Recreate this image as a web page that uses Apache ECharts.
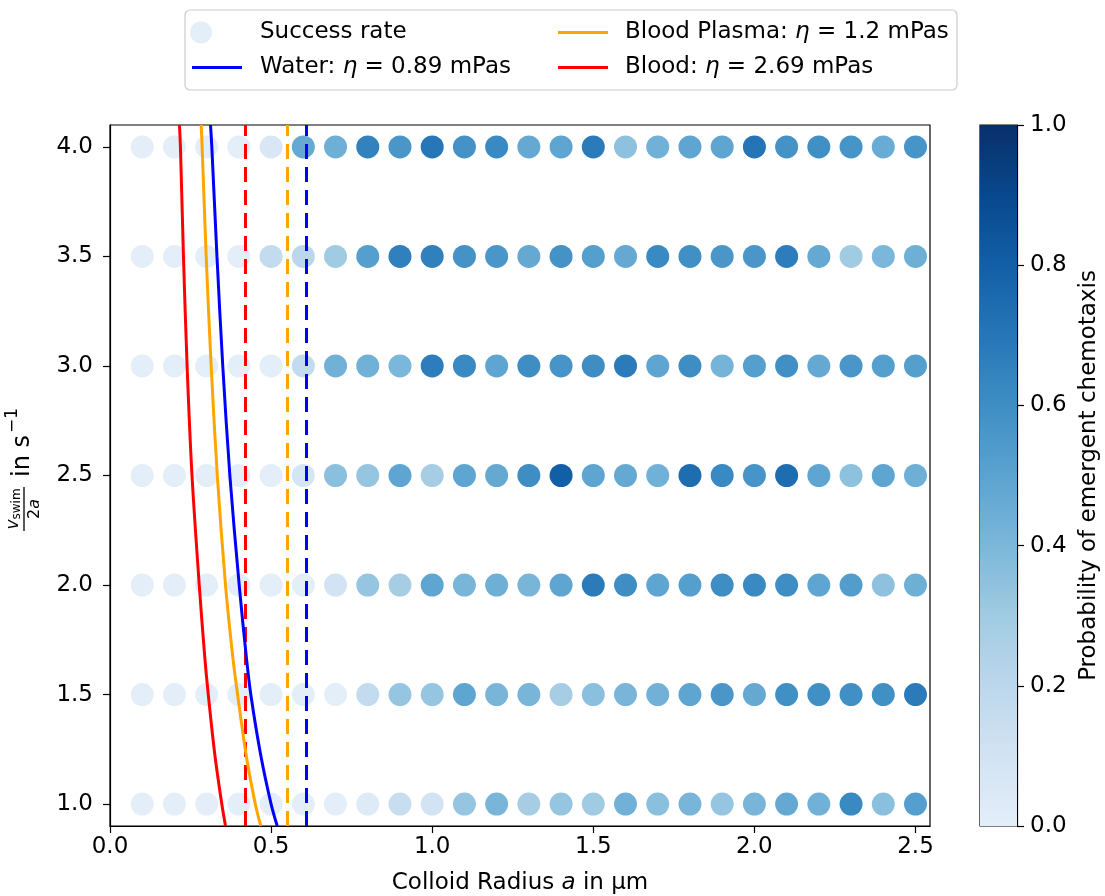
<!DOCTYPE html>
<html>
<head>
<meta charset="utf-8">
<script src="https://cdn.jsdelivr.net/npm/echarts@6/dist/echarts.min.js"></script>
<style>html,body{margin:0;padding:0;background:#fff}#c{width:1105px;height:896px}</style>
</head>
<body>
<div id="c"></div>
<script>
// ---------- data ----------
const radii = [0.1,0.2,0.3,0.4,0.5,0.6,0.7,0.8,0.9,1.0,1.1,1.2,1.3,1.4,1.5,1.6,1.7,1.8,1.9,2.0,2.1,2.2,2.3,2.4,2.5];
const rates = [1.0,1.5,2.0,2.5,3.0,3.5,4.0];
const prob_1_0 = [0,0,0,0,0,0,0,0.03,0.15,0.10,0.33,0.41,0.28,0.33,0.30,0.43,0.36,0.41,0.33,0.41,0.47,0.43,0.62,0.36,0.52];
const prob_1_5 = [0,0,0,0,0,0,0,0.17,0.33,0.33,0.49,0.41,0.41,0.28,0.36,0.41,0.43,0.49,0.56,0.47,0.59,0.59,0.59,0.59,0.68];
const prob_2_0 = [0,0,0,0,0,0,0.10,0.33,0.28,0.49,0.41,0.44,0.41,0.49,0.68,0.60,0.49,0.52,0.60,0.62,0.60,0.49,0.53,0.35,0.44];
const prob_2_5 = [0,0,0,0,0,0.08,0.36,0.33,0.49,0.28,0.49,0.47,0.60,0.80,0.49,0.47,0.43,0.74,0.62,0.57,0.74,0.49,0.35,0.49,0.44];
const prob_3_0 = [0,0,0,0,0,0.17,0.43,0.43,0.40,0.67,0.62,0.49,0.60,0.57,0.60,0.68,0.49,0.60,0.42,0.52,0.59,0.47,0.56,0.52,0.52];
const prob_3_5 = [0,0,0,0,0.17,0.20,0.30,0.52,0.66,0.66,0.58,0.56,0.47,0.58,0.52,0.47,0.62,0.59,0.56,0.56,0.67,0.47,0.30,0.40,0.44];
const prob_4_0 = [0,0,0,0,0.06,0.47,0.44,0.65,0.56,0.70,0.58,0.62,0.47,0.49,0.68,0.35,0.43,0.49,0.49,0.71,0.58,0.59,0.57,0.46,0.57];
const probRows = [prob_1_0, prob_1_5, prob_2_0, prob_2_5, prob_3_0, prob_3_5, prob_4_0];

// threshold curves [radius, rate]
const waterCurve  = [[0.312,4.1],[0.316,4.0],[0.332,3.5],[0.350,3.0],[0.372,2.5],[0.401,2.0],[0.423,1.673],[0.437,1.5],[0.467,1.23],[0.500,1.0],[0.519,0.9]];
const plasmaCurve = [[0.283,4.1],[0.286,4.0],[0.2985,3.5],[0.314,3.0],[0.333,2.5],[0.3585,2.0],[0.381,1.673],[0.396,1.5],[0.422,1.23],[0.451,1.0],[0.468,0.9]];
const bloodCurve  = [[0.2155,4.1],[0.2186,4.0],[0.228,3.5],[0.2393,3.0],[0.2545,2.5],[0.277,2.0],[0.294,1.673],[0.305,1.5],[0.325,1.23],[0.347,1.0],[0.3585,0.9]];
const waterLimit = 0.6104;
const plasmaLimit = 0.5523;
const bloodLimit = 0.4213;

const xTicks = [0.0,0.5,1.0,1.5,2.0,2.5];
const yTicks = [1.0,1.5,2.0,2.5,3.0,3.5,4.0];
const cbTicks = [0.0,0.2,0.4,0.6,0.8,1.0];

// ---------- colours ----------
const BLUES = ['#f7fbff','#deebf7','#c6dbef','#9ecae1','#6baed6','#4292c6','#2171b5','#08519c','#08306b'];
function hex2rgb(h){return [parseInt(h.substr(1,2),16),parseInt(h.substr(3,2),16),parseInt(h.substr(5,2),16)];}
function blues(t){
  const p = Math.max(0,Math.min(1,t))*8; const i = Math.min(7,Math.floor(p)); const f = p-i;
  const a = hex2rgb(BLUES[i]), b = hex2rgb(BLUES[i+1]);
  return 'rgb(' + a.map((v,k)=>Math.round(v+(b[k]-v)*f)).join(',') + ')';
}
const cmap = [];
for (let k=0;k<=10;k++) cmap.push(blues(0.1+0.9*k/10));

const scatterData = [];
rates.forEach((r,ri)=>radii.forEach((a,ai)=>scatterData.push([a,r,probRows[ri][ai]])));

const FONT = 'DejaVu Sans';
const FS = 23;
const richLegend = {
  n:{fontFamily:FONT,fontSize:FS,color:'#000'},
  i:{fontFamily:FONT,fontSize:FS,fontStyle:'italic',color:'#000'}
};
const legendText = {
  'Success rate':'{n|Success rate}',
  'Water':'{n|Water: }{i|η}{n| = 0.89 mPas}',
  'Blood Plasma':'{n|Blood Plasma: }{i|η}{n| = 1.2 mPas}',
  'Blood':'{n|Blood: }{i|η}{n| = 2.69 mPas}'
};
const LINE_ICON = 'path://M0,0H50V3H0Z';
function mkLegend(name,left,top,padLeft,icon,color){
  const d = {name:name, icon: icon};
  if (color) d.itemStyle = {color:color};
  return {show:true,data:[d],left:left,top:top,padding:0,itemWidth:50,itemHeight:22,
    selectedMode:false,formatter:n=>legendText[n],
    textStyle:{fontFamily:FONT,fontSize:FS,color:'#000',padding:[0,0,0,padLeft],rich:richLegend}};
}

function lineSeries(name,data,limit,color){
  return {type:'line',name:name,data:data,xAxisIndex:0,yAxisIndex:0,symbol:'none',showSymbol:false,
    smooth:0.3,clip:true,z:5,lineStyle:{color:color,width:3},itemStyle:{color:color},
    markLine:{silent:true,symbol:'none',label:{show:false},
      lineStyle:{color:color,width:3,type:[15,8]},data:[{xAxis:limit}]}};
}

const chart = echarts.init(document.getElementById('c'),null,{renderer:'canvas'});
chart.setOption({
  animation:false,
  backgroundColor:'#fff',
  grid:[
    {left:110,top:125,width:820,height:701,outerBoundsMode:'none',containLabel:false,show:true,borderColor:'#000',borderWidth:1.2,backgroundColor:'transparent'},
    {left:980,top:125,width:37,height:701,outerBoundsMode:'none',containLabel:false,show:true,borderColor:'#000',borderWidth:1.2,backgroundColor:'transparent'}
  ],
  xAxis:[
    {type:'value',gridIndex:0,min:0,max:2.545,
     name:'{n|Colloid Radius }{i|a}{n| in μm}',nameLocation:'middle',nameGap:46,
     nameTextStyle:{rich:{n:{fontFamily:FONT,fontSize:FS,color:'#000'},i:{fontFamily:FONT,fontSize:FS,fontStyle:'italic',color:'#000'}}},
     axisLine:{show:true,lineStyle:{color:'#000',width:1.2}},
     axisTick:{show:true,length:7,lineStyle:{color:'#000',width:1.2},customValues:xTicks},
     axisLabel:{show:true,margin:10,fontFamily:FONT,fontSize:FS,color:'#000',customValues:xTicks,formatter:v=>v.toFixed(1)},
     splitLine:{show:false}},
    {type:'category',gridIndex:1,data:['cb'],show:false,boundaryGap:true}
  ],
  yAxis:[
    {type:'value',gridIndex:0,min:0.9,max:4.1,
     axisLine:{show:true,lineStyle:{color:'#000',width:1.2}},
     axisTick:{show:true,length:7,lineStyle:{color:'#000',width:1.2},customValues:yTicks},
     axisLabel:{show:true,margin:17,fontFamily:FONT,fontSize:FS,color:'#000',customValues:yTicks,formatter:v=>v.toFixed(1)},
     splitLine:{show:false}},
    {type:'value',gridIndex:1,min:0,max:1,position:'right',
     name:'Probability of emergent chemotaxis',nameLocation:'middle',nameRotate:90,nameGap:61,
     nameTextStyle:{fontFamily:FONT,fontSize:FS,color:'#000'},
     axisLine:{show:true,lineStyle:{color:'#000',width:1.2}},
     axisTick:{show:true,length:7,lineStyle:{color:'#000',width:1.2},customValues:cbTicks},
     axisLabel:{show:true,margin:13,fontFamily:FONT,fontSize:FS,color:'#000',customValues:cbTicks,formatter:v=>v.toFixed(1)},
     splitLine:{show:false}}
  ],
  visualMap:{type:'continuous',show:false,min:0,max:1,dimension:2,seriesIndex:0,inRange:{color:cmap}},
  legend:[
    mkLegend('Success rate',190,21,29,'circle',cmap[0]),
    mkLegend('Water',192,56,13,LINE_ICON,'#0000ff'),
    mkLegend('Blood Plasma',558,21,12,LINE_ICON,'#ffa500'),
    mkLegend('Blood',558,56,12,LINE_ICON,'#ff0000')
  ],
  graphic:[
    {type:'rect',z:-1,shape:{x:185,y:10,width:772,height:80,r:5},style:{fill:'rgba(255,255,255,0.8)',stroke:'#cccccc',lineWidth:1.2}},
    {type:'group',x:23,y:465,rotation:Math.PI/2,children:[
      {type:'text',x:-12,y:0,style:{text:'in s',fontFamily:FONT,fontSize:24,fill:'#000',align:'left',verticalAlign:'middle'}},
      {type:'text',x:32,y:-10,style:{text:'−1',fontFamily:FONT,fontSize:17,fill:'#000',align:'left',verticalAlign:'middle'}},
      {type:'text',x:-44,y:-9,style:{text:'{v|v}{s|swim}',align:'center',verticalAlign:'middle',
        rich:{v:{fontFamily:FONT,fontSize:17,fontStyle:'italic',fill:'#000'},s:{fontFamily:FONT,fontSize:12,fill:'#000',padding:[6,0,0,0]}}}},
      {type:'line',shape:{x1:-66,y1:1,x2:-22,y2:1},style:{stroke:'#000',lineWidth:1.3}},
      {type:'text',x:-44,y:12,style:{text:'{n|2}{i|a}',align:'center',verticalAlign:'middle',
        rich:{n:{fontFamily:FONT,fontSize:16,fill:'#000'},i:{fontFamily:FONT,fontSize:16,fontStyle:'italic',fill:'#000'}}}}
    ]}
  ],
  series:[
    {type:'scatter',name:'Success rate',xAxisIndex:0,yAxisIndex:0,data:scatterData,symbolSize:23,z:2,itemStyle:{opacity:1}},
    lineSeries('Water',waterCurve,waterLimit,'#0000ff'),
    lineSeries('Blood Plasma',plasmaCurve,plasmaLimit,'#ffa500'),
    lineSeries('Blood',bloodCurve,bloodLimit,'#ff0000'),
    {type:'bar',xAxisIndex:1,yAxisIndex:1,data:[1],barWidth:'100%',silent:true,
     itemStyle:{color:{type:'linear',x:0,y:1,x2:0,y2:0,colorStops:cmap.map((c,k)=>({offset:k/10,color:c}))}}}
  ]
});
</script>
</body>
</html>
